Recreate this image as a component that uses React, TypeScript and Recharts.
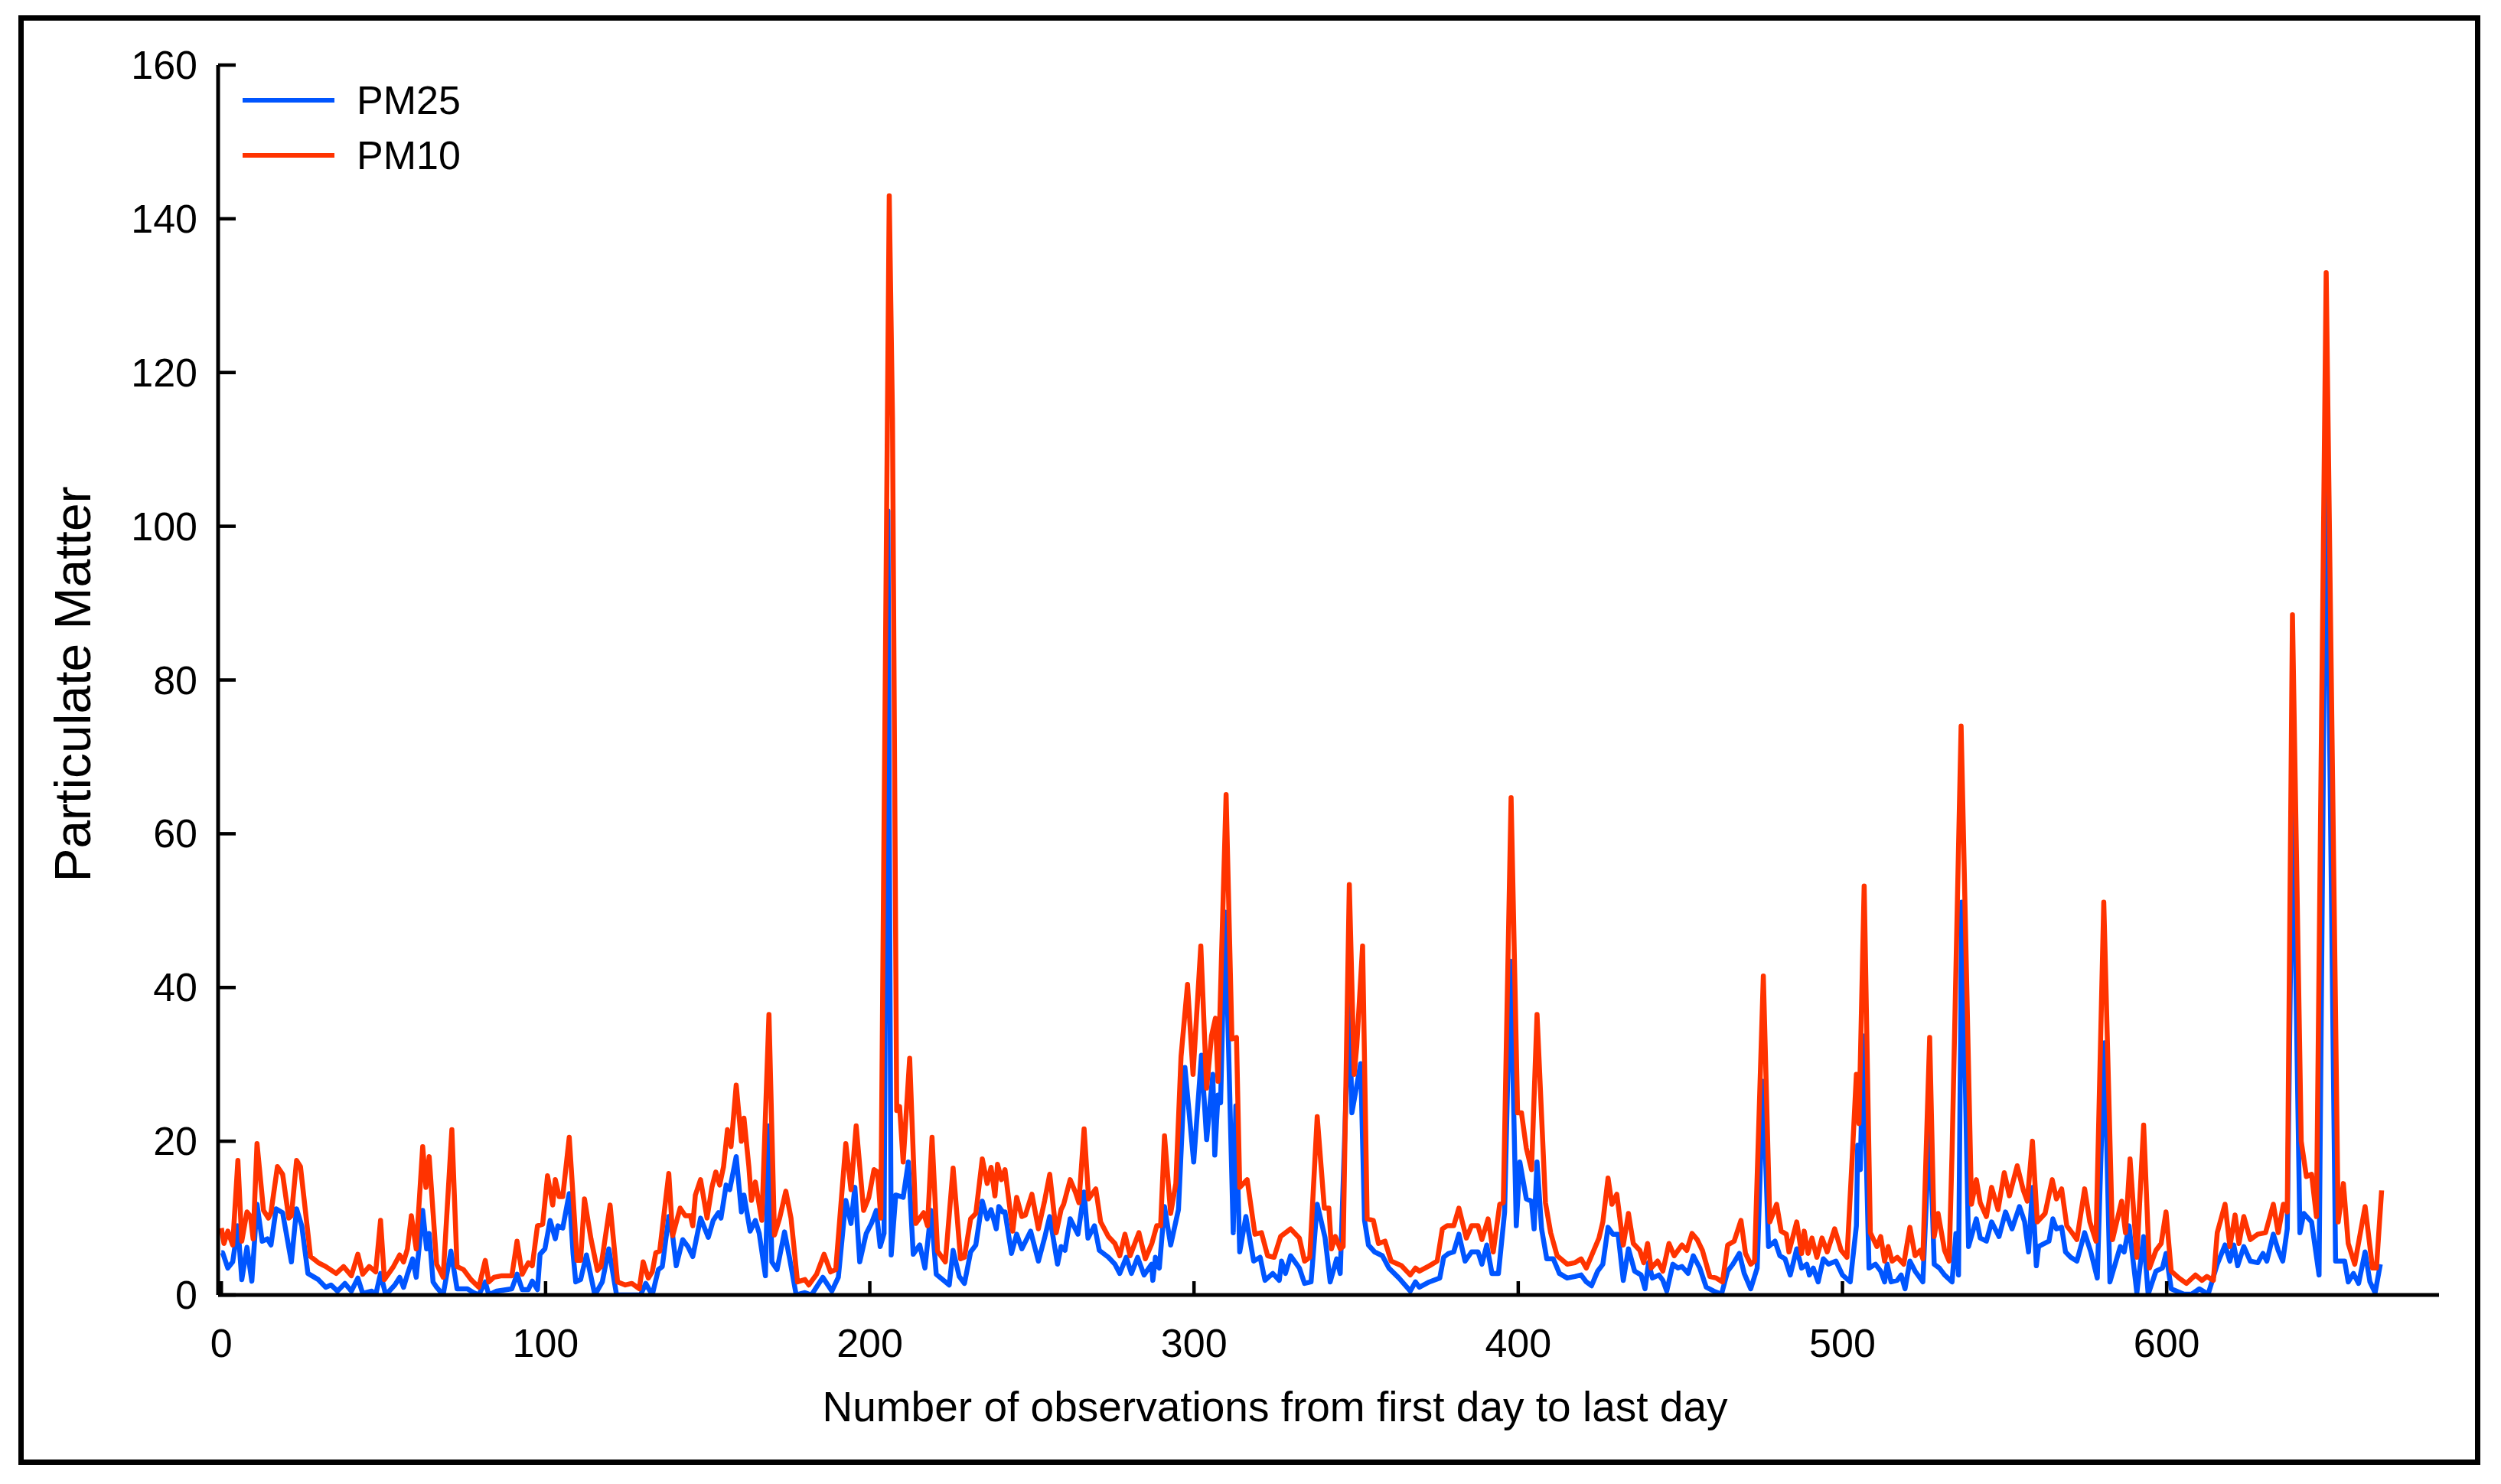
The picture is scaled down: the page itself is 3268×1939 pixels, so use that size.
import React from 'react';
import { LineChart, Line, XAxis, YAxis } from 'recharts';

const PM25: [number, number][] = [
  [0, 5.5], [0.4, 5.5], [2, 3.5], [3.5, 4.3], [5.1, 9], [6.3, 2], [7.9, 6.2], [9.4, 1.8], [11, 11.8],
  [12.6, 7], [14.2, 7.3], [15.3, 6.5], [16.9, 11.2], [18.9, 10.7], [21.6, 4.3], [23.2, 11.2], [24.8, 9],
  [26.7, 2.8], [29.9, 2], [32.2, 1], [33.8, 1.3], [35.8, 0.5], [38.1, 1.5], [40.1, 0.5], [42.1, 2.2],
  [43.6, 0.2], [46.4, 0.5], [47.6, 0], [49.1, 2.8], [50.7, 0], [53.5, 1.3], [55, 2.3], [56.2, 1],
  [57.4, 2.7], [59, 4.7], [60.1, 2.3], [62.1, 11], [63.3, 6], [64.1, 8], [65.3, 1.7], [66.4, 1],
  [68.4, 0], [70.8, 5.7], [72.7, 0.8], [75.9, 0.8], [77.8, 0.3], [79.4, 0], [81.4, 1.7], [82.5, 0],
  [84.9, 0.5], [89.6, 0.8], [91.2, 2.7], [92.8, 0.7], [94.7, 0.7], [95.9, 1.8], [97.5, 0.7], [98.3, 5.3],
  [99.8, 6], [101.4, 9.7], [103, 7.3], [103.8, 9], [105.3, 8.7], [107.3, 13.2], [108.5, 5.3], [109.3, 1.7],
  [110.8, 2], [112.6, 5.2], [115.2, 0], [117.5, 1.7], [119.5, 6], [121.9, 0], [129.3, 0], [130.9, 1.5],
  [132.9, 0], [134.8, 3.3], [136, 3.7], [138, 10.2], [139.2, 7.7], [140.3, 3.8], [142.3, 7.2], [143.9, 6.3],
  [145.4, 5], [147.8, 10], [150.2, 7.5], [151.7, 9.7], [153.3, 10.7], [154.1, 10], [155.7, 14.3],
  [156.8, 13.7], [158.8, 18], [160.4, 10.8], [161.2, 13], [163.1, 8.3], [164.7, 9.7], [165.9, 8],
  [167.8, 2.5], [168.9, 22], [169.8, 4.3], [171.4, 3.3], [173.7, 8.2], [175.3, 4.7], [177.3, 0], [180, 0.3],
  [182, 0], [185.5, 2.3], [188.3, 0.5], [190.3, 2.3], [192.6, 12.3], [194.2, 9.3], [195.4, 14], [196.9, 4.3],
  [198.9, 8], [200.5, 9.3], [202, 11], [203.2, 6.3], [204.4, 8], [205.6, 102], [206.6, 5.2], [208, 13],
  [210.3, 12.7], [211.9, 17.3], [213.4, 5.3], [215.4, 6.5], [217, 3.5], [218.9, 11], [220.5, 2.7],
  [222.5, 2], [224.5, 1.3], [225.7, 5.8], [227.6, 2.4], [229.2, 1.5], [231.1, 5.6], [232.7, 6.5],
  [234.7, 12.2], [236.2, 9.9], [237.4, 11.1], [239, 8.6], [239.8, 11.5], [241, 10.8], [241.7, 10.8],
  [243.7, 5.4], [245.3, 7.9], [246.9, 6], [249.6, 8.3], [252, 4.4], [253.9, 7.4], [255.5, 10.2], [257.9, 4],
  [259, 6.3], [260.2, 5.8], [261.8, 9.9], [264.2, 7.9], [266.1, 13.4], [267.3, 7.4], [269.3, 9], [270.8, 5.8],
  [273.6, 4.9], [275.6, 4], [277.1, 2.8], [279.1, 4.9], [280.7, 2.8], [282.6, 4.9], [284.6, 2.6], [286.9, 4],
  [287.3, 1.9], [288.1, 4.9], [289.3, 3.5], [290.9, 11.5], [292.8, 6.5], [295.2, 11.1], [297.2, 29.6],
  [299.9, 17.3], [302.3, 31.2], [303.9, 20.2], [305.8, 28.7], [306.4, 18.2], [307.4, 26], [308.2, 25],
  [309.6, 49.8], [312.1, 8.1], [312.9, 24.6], [314.1, 5.6], [316, 10.2], [318.4, 4.4], [320.4, 4.9],
  [321.9, 1.9], [324.3, 2.8], [326.3, 1.9], [327, 4.4], [328.2, 2.8], [329.8, 5.1], [332.5, 3.5],
  [334.1, 1.5], [336.1, 1.7], [338, 11.8], [340.4, 7.5], [342, 1.7], [344, 4.7], [345.1, 2.8], [347.9, 39],
  [348.7, 23.7], [351.4, 30.1], [352.6, 9.7], [353.8, 6.5], [355.7, 5.6], [358.1, 5.1], [360.1, 3.5],
  [363.2, 2.2], [366.7, 0.5], [368.3, 1.7], [369.5, 1], [372.6, 1.7], [375.8, 2.2], [377, 4.9], [378.5, 5.4],
  [380.1, 5.6], [381.7, 7.9], [383.6, 4.4], [385.6, 5.6], [387.6, 5.6], [388.8, 4], [390.3, 6.5],
  [391.9, 2.8], [393.9, 2.8], [395.8, 10.8], [397.6, 43.4], [399.4, 9], [400.5, 17.3], [402.5, 12.5],
  [404.1, 12.2], [404.9, 8.6], [405.8, 17.3], [407.2, 8.6], [408.8, 4.7], [410.8, 4.7], [412.7, 2.8],
  [415.1, 2.2], [417.5, 2.4], [419.4, 2.6], [421, 1.7], [422.6, 1.2], [424.5, 3.1], [426.1, 4], [427.7, 8.8],
  [429.2, 7.9], [430.8, 7.9], [432.4, 1.9], [434, 6], [435.9, 3.1], [437.9, 2.6], [439.1, 0.8], [440.2, 4.2],
  [441.4, 2.2], [443.4, 2.6], [444.6, 1.9], [445.8, 0.5], [447.7, 4], [449.3, 3.5], [450.5, 3.7],
  [452.4, 2.8], [454, 5.1], [456, 3.5], [458, 1], [460.3, 0.5], [462.7, 0.1], [464.6, 3.1], [466.2, 4],
  [468.2, 5.4], [469.7, 2.8], [471.7, 0.8], [473.7, 3.5], [475.5, 27.8], [477.2, 6.3], [479.2, 7],
  [480.7, 5.1], [482.3, 4.7], [483.9, 2.6], [485.9, 6], [487.4, 3.5], [489, 4], [489.8, 2.6], [491, 3.5],
  [492.5, 1.7], [494.1, 4.7], [495.7, 4], [498, 4.4], [500, 2.6], [502.4, 1.7], [504.3, 9], [504.7, 19.5],
  [505.5, 16.3], [506.4, 33.7], [508.2, 3.5], [510.2, 4], [511.8, 3.1], [513, 1.7], [513.8, 4], [515, 1.7],
  [516.9, 1.9], [518.1, 2.6], [519.3, 0.8], [520.8, 4.4], [522.4, 3.1], [524.8, 1.7], [526.9, 22.3],
  [528.3, 4], [529.9, 3.5], [531.5, 2.6], [533.8, 1.7], [535, 8], [535.8, 2.6], [536.8, 51.1], [538.9, 6.3],
  [541.3, 9.9], [542.5, 7.4], [544.4, 7], [546, 9.5], [548.3, 7.6], [550.3, 10.8], [552.3, 8.6],
  [554.6, 11.5], [556.2, 9.5], [557.4, 5.6], [558.6, 14], [559.8, 3.8], [560.5, 6.3], [563.7, 7],
  [564.9, 9.9], [566, 8.6], [567.6, 8.8], [568.8, 5.6], [570.4, 4.9], [572.3, 4.4], [574.7, 8.1],
  [576.6, 5.6], [578.6, 2.2], [580.8, 32.8], [582.5, 1.7], [585.7, 6.3], [586.9, 5.6], [588.4, 9],
  [590.8, 0.3], [592.9, 7.6], [594.3, 0.1], [596.7, 3.1], [598.7, 3.5], [599.8, 5.4], [601.4, 0.8],
  [605.3, 0.1], [607.7, 0.1], [610.1, 0.8], [612.8, 0.1], [615.6, 4], [618, 6.5], [619.5, 4.4], [620.7, 6.5],
  [621.9, 3.8], [623.8, 6.3], [625.8, 4.4], [628.1, 4.2], [629.7, 5.4], [630.9, 4.4], [632.9, 7.9],
  [634.4, 5.8], [635.8, 4.4], [637.2, 8.6], [638.9, 66.3], [641.1, 8.1], [642.3, 10.6], [644.7, 9.5],
  [647, 2.6], [649.2, 112], [652.1, 4.4], [654.9, 4.4], [656, 1.7], [657.6, 2.8], [659.2, 1.5], [661.2, 5.6],
  [662.7, 1.7], [664.3, 0.3], [665.9, 4],
];

const PM10: [number, number][] = [
  [0, 8.7], [0.8, 6.7], [2, 8.3], [3.5, 6.5], [5.1, 17.5], [6.3, 7], [7.9, 10.8], [9, 10.2], [9.8, 7.3],
  [11, 19.7], [13, 11], [14.5, 10], [15.3, 10.7], [17.3, 16.7], [18.9, 15.7], [20.8, 10], [21.6, 10.3],
  [23.2, 17.5], [24.4, 16.7], [27.5, 5], [29.9, 4.2], [32.2, 3.7], [35.4, 2.8], [37.7, 3.7], [40.1, 2.5],
  [42.1, 5.3], [43.6, 2.7], [45.6, 3.7], [47.6, 3], [49.1, 9.7], [50.3, 2], [53.1, 3.7], [55, 5.2],
  [56.2, 4.3], [57.4, 6], [58.6, 10.3], [60.1, 6], [62.1, 19.3], [63.1, 14], [64.1, 18], [65.3, 10.7],
  [66.4, 4], [68.4, 2.3], [71.1, 21.5], [72.7, 3.7], [74.7, 3.3], [77, 2], [79.4, 1], [81.4, 4.5],
  [82.5, 1.7], [84.1, 2.3], [86.5, 2.5], [89.6, 2.5], [91.2, 7], [92.8, 2.7], [94.7, 4.2], [95.9, 3.8],
  [97.5, 9], [99.1, 9.2], [100.6, 15.5], [102.2, 11.7], [103, 15], [104.2, 12.8], [105.3, 12.8],
  [107.3, 20.5], [108.5, 12.7], [109.7, 4.5], [110.8, 4.5], [112, 12.5], [114, 7.3], [116, 3.2],
  [117.1, 3.7], [119.9, 11.7], [122.2, 1.7], [124.6, 1.3], [126.6, 1.5], [128.9, 0.8], [130.1, 4.3],
  [131.7, 2.2], [132.9, 3], [134, 5.5], [135.2, 5.7], [138, 15.8], [139.2, 7.7], [141.5, 11.3],
  [143.1, 10.3], [144.7, 10.3], [145.4, 9], [146.2, 13], [147.8, 15], [149.8, 10], [151.3, 14], [152.5, 16],
  [153.7, 14.3], [154.9, 16.7], [156.1, 21.5], [157.2, 19.3], [158.8, 27.3], [160.4, 20], [161.2, 23],
  [162.7, 16.7], [163.5, 12.3], [164.7, 14.7], [166.7, 9.7], [168.9, 36.5], [170.6, 7.8], [172.2, 10],
  [174.1, 13.5], [175.7, 10], [177.7, 1.7], [180, 2], [181.2, 1.3], [183.6, 2.7], [185.9, 5.3], [187.9, 3],
  [189.5, 3.3], [192.6, 19.7], [194.2, 13.7], [195.8, 22], [198.1, 11], [199.7, 12.7], [201.3, 16.3],
  [202.4, 16], [203.4, 10], [206, 143], [207, 114], [208.3, 24], [209.2, 24.5], [210.3, 17.3],
  [212.3, 30.8], [214.2, 9.3], [216.6, 10.7], [217.8, 9], [219.2, 20.5], [220.9, 5.7], [223.3, 4.3],
  [225.7, 16.5], [228, 4.7], [229.2, 4.9], [231.1, 9.9], [232.7, 10.6], [234.7, 17.7], [236.2, 14.5],
  [237.4, 16.6], [238.6, 12.9], [239.4, 17], [240.6, 15], [241.7, 16.3], [244.1, 8.3], [245.3, 12.7],
  [246.9, 10.2], [248, 10.4], [250, 13.1], [252, 8.6], [253.9, 12.2], [255.5, 15.7], [257.5, 8.1],
  [259, 11.1], [259.8, 11.8], [261.8, 15], [263.4, 13.4], [264.5, 12], [266.1, 21.6], [267.5, 12.5],
  [269.7, 13.8], [271.2, 9.5], [273.6, 7.6], [275.6, 6.7], [277.1, 5.1], [278.7, 7.9], [280.3, 5.1],
  [283, 8.1], [285, 4.7], [287, 6.7], [288.5, 9], [289.7, 9], [290.9, 20.7], [292.8, 10.6], [294.4, 14.5],
  [296, 31], [298, 40.4], [299.7, 28.7], [302.1, 45.4], [303.9, 26.9], [305.4, 33.7], [306.6, 36],
  [307.4, 27.8], [309.9, 65.1], [311.7, 33.3], [313.1, 33.5], [314.1, 14], [316.4, 15], [318.8, 7.9],
  [320.8, 8.1], [322.7, 5.1], [324.7, 4.9], [326.7, 7.6], [329.8, 8.6], [332.5, 7.4], [334.1, 4.4],
  [335.7, 4.9], [338, 23.2], [340.2, 11.3], [341.6, 11.3], [342.4, 6], [343.6, 7.6], [345.1, 6], [346, 6.3],
  [347.9, 53.4], [349.4, 28.7], [350.2, 32.4], [352, 45.4], [353.4, 9.9], [355.3, 9.7], [356.9, 6.7],
  [358.9, 7], [360.8, 4.4], [364, 3.8], [366.7, 2.6], [368.3, 3.5], [369.5, 3.1], [372.6, 3.8], [375, 4.4],
  [376.6, 8.6], [378.1, 9], [380.1, 9], [381.7, 11.3], [384, 7.4], [385.6, 9], [387.6, 9], [388.8, 7.2],
  [390.7, 9.9], [392.3, 5.6], [394.3, 11.8], [395.4, 12], [397.8, 64.7], [399.8, 23.7], [401, 23.7],
  [402.5, 19.1], [404.1, 16.3], [405.8, 36.5], [408.4, 12], [410, 8.1], [412, 5.1], [415.1, 4], [417.5, 4.2],
  [419.4, 4.7], [421, 3.5], [422.6, 5.1], [424.9, 7.4], [426.1, 9.5], [427.7, 15.2], [428.9, 11.8],
  [430.4, 13.1], [432.4, 6.5], [434, 10.6], [435.5, 6.7], [437.5, 5.8], [438.7, 4.2], [439.9, 6.7],
  [441, 3.5], [443, 4.4], [444.6, 3.1], [446.5, 6.7], [448.1, 5.1], [450.5, 6.5], [452, 5.8], [453.6, 8],
  [455.2, 7.2], [456.8, 5.8], [459.1, 2.4], [461.1, 2.2], [463, 1.7], [464.6, 6.5], [466.6, 7], [468.7, 9.7],
  [470.1, 5.4], [471.7, 4], [472.9, 4.4], [475.6, 41.5], [477.6, 9.5], [479.7, 11.8], [481.1, 8.3],
  [482.7, 7.9], [483.5, 5.6], [485.9, 9.5], [487.4, 5.4], [488.2, 8.3], [489.4, 5.4], [490.6, 7.4],
  [492.1, 4.9], [493.7, 7.4], [495.3, 5.6], [497.6, 8.6], [499.6, 5.8], [501.4, 4.9], [503.1, 18.6],
  [504.3, 28.7], [505.1, 22.3], [506.7, 53.2], [508.6, 8.1], [510.6, 6.3], [511.8, 7.6], [513, 4.4],
  [514.1, 6.3], [515.3, 4.4], [516.9, 4.9], [518.9, 4], [520.8, 8.8], [522.4, 5.1], [524, 5.8], [524.8, 4.7],
  [526.9, 33.5], [528.3, 7.6], [529.5, 10.6], [531.5, 5.8], [532.9, 4.4], [533.8, 18.4], [536.6, 74],
  [539.8, 11.8], [541.3, 15], [542.5, 12], [544.4, 10.2], [546, 14], [548, 11.1], [549.9, 15.9],
  [551.5, 12.9], [553.9, 16.8], [555.8, 13.6], [557, 12.2], [558.6, 20], [560.1, 9.5], [562.5, 10.6],
  [564.7, 15], [566, 12.5], [567.6, 13.8], [569.2, 9], [570.8, 8.1], [572.3, 7.2], [574.7, 13.8],
  [576.3, 9.5], [578.2, 7], [580.6, 51.1], [583.3, 7.2], [586.1, 12.2], [587.3, 8.1], [588.7, 17.7],
  [590.8, 4.9], [592.9, 22.1], [594.7, 3.5], [596.7, 5.8], [598.3, 6.7], [599.8, 10.8], [601.4, 3.1],
  [603.8, 2.2], [606.1, 1.5], [608.9, 2.6], [610.9, 1.9], [612.4, 2.4], [614.4, 1.9], [615.6, 8.1],
  [618, 11.8], [619.5, 6.3], [621.1, 10.4], [622.3, 6.7], [623.8, 10.2], [625.8, 7.2], [628.1, 7.9],
  [630.5, 8.1], [632.9, 11.8], [634.4, 8.1], [636, 11.8], [637.2, 10.8], [638.8, 88.5], [641.5, 20],
  [643.1, 15.4], [644.7, 15.7], [646.2, 10.2], [649.2, 133], [652.9, 9.5], [654.5, 14.5], [656, 6.7],
  [658, 4], [661.2, 11.5], [663.5, 3.5], [664.7, 3.5], [666.3, 13.6],
];

const X_TICKS = [0, 100, 200, 300, 400, 500, 600];
const Y_TICKS = [0, 20, 40, 60, 80, 100, 120, 140, 160];

const SERIES = [
  { name: 'PM25', points: PM25, color: '#0055ff' },
  { name: 'PM10', points: PM10, color: '#ff3300' },
];

const FONT = '"Liberation Sans", Arial, sans-serif';

const toRows = (pairs: [number, number][]) => pairs.map(([x, y]) => ({ x, y }));

// ticks point inward, so the tick line and label are drawn together
const YTick = ({ x, y, payload }: any) => (
  <g>
    <line x1={x} y1={y} x2={x + 23} y2={y} stroke="#000" strokeWidth={4.5} />
    <text x={x - 27} y={y} dy={18} textAnchor="end" fontSize={52} fontFamily={FONT} fill="#000">
      {payload.value}
    </text>
  </g>
);

const XTick = ({ x, y, payload }: any) => (
  <g>
    <line x1={x} y1={y} x2={x} y2={y - 18} stroke="#000" strokeWidth={4.5} />
    <text x={x} y={y + 81} textAnchor="middle" fontSize={52} fontFamily={FONT} fill="#000">
      {payload.value}
    </text>
  </g>
);

const XTitle = () => (
  <text x={1666} y={1857} textAnchor="middle" fontSize={55} fontFamily={FONT} fill="#000">
    Number of observations from first day to last day
  </text>
);

const YTitle = () => (
  <text
    x={118}
    y={894}
    transform="rotate(-90 118 894)"
    textAnchor="middle"
    fontSize={66}
    fontFamily={FONT}
    fill="#000"
  >
    Particulate Matter
  </text>
);

export default function App() {
  return (
    <div style={{ position: 'absolute', left: 0, top: 0, width: 3268, height: 1939, background: '#fff' }}>
      {/* outer frame */}
      <div
        style={{
          position: 'absolute',
          left: 24,
          top: 20,
          width: 3217,
          height: 1894,
          border: '7px solid #000',
          boxSizing: 'border-box',
        }}
      />

      <div style={{ position: 'absolute', left: 0, top: 0 }}>
        <LineChart width={3268} height={1939} margin={{ top: 85, right: 81, bottom: 246, left: 284 }}>
          <XAxis
            type="number"
            dataKey="x"
            domain={[-1, 684]}
            ticks={X_TICKS}
            allowDataOverflow
            height={1}
            tickSize={0}
            tickMargin={0}
            tickLine={false}
            tick={XTick}
            axisLine={{ stroke: '#000', strokeWidth: 5 }}
            label={XTitle}
          />
          <YAxis
            type="number"
            dataKey="y"
            domain={[0, 160]}
            ticks={Y_TICKS}
            allowDataOverflow
            width={1}
            tickSize={0}
            tickMargin={0}
            tickLine={false}
            tick={YTick}
            axisLine={{ stroke: '#000', strokeWidth: 5 }}
            label={YTitle}
          />
          {SERIES.map((s) => (
            <Line
              key={s.name}
              name={s.name}
              data={toRows(s.points)}
              dataKey="y"
              type="linear"
              stroke={s.color}
              strokeWidth={6.5}
              strokeLinejoin="round"
              dot={false}
              activeDot={false}
              isAnimationActive={false}
            />
          ))}
        </LineChart>
      </div>

      {/* legend, top left inside the axes */}
      <div style={{ position: 'absolute', left: 317, top: 95, fontFamily: FONT, fontSize: 52, color: '#000' }}>
        {SERIES.map((s) => (
          <div key={s.name} style={{ display: 'flex', alignItems: 'center', height: 72 }}>
            <div style={{ width: 120, height: 6, background: s.color }} />
            <span style={{ marginLeft: 29, lineHeight: '72px' }}>{s.name}</span>
          </div>
        ))}
      </div>
    </div>
  );
}
